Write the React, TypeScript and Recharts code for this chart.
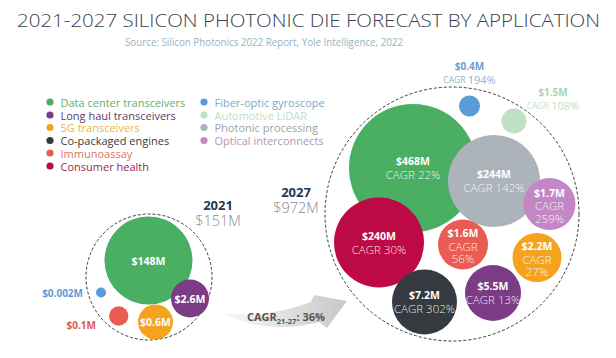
import React from 'react';
import { ScatterChart, Scatter, XAxis, YAxis } from 'recharts';

// ---------- DATA ----------
const categories = [
  'Data center transceivers',
  'Long haul transceivers',
  '5G transceivers',
  'Co-packaged engines',
  'Immunoassay',
  'Consumer health',
  'Fiber-optic gyroscope',
  'Automotive LiDAR',
  'Photonic processing',
  'Optical interconnects',
];
const values2021: (number | null)[] = [148, 2.6, 0.6, null, 0.1, null, 0.002, null, null, null];
const values2027: number[] = [468, 5.5, 2.2, 7.2, 1.6, 240, 0.4, 1.5, 244, 1.7];
const cagr2027: number[] = [22, 13, 27, 302, 56, 30, 194, 108, 142, 259];
const years = ['2021', '2027'];
const totals = [151, 972];
const overallCagr = 36;
const titleText = '2021-2027 SILICON PHOTONIC DIE FORECAST BY APPLICATION';
const sourceText = 'Source: Silicon Photonics 2022 Report, Yole Intelligence, 2022';

// ---------- STYLE ----------
const FONT = "'Open Sans', 'Noto Sans', sans-serif";
const bubbleColors = ['#4aae63', '#7c3b85', '#f5a31f', '#343a40', '#ea5b51', '#bd0a45', '#5b9bd8', '#bfe0c5', '#adb3ba', '#c487c6'];
const legendTextColors = ['#5fae71', '#5b3c6b', '#e9b54c', '#3a3a3a', '#e07468', '#9c1f47', '#7ea9cc', '#c3dccb', '#9da3aa', '#b994bb'];
const outerValueColors = ['', '', '', '', '#e0574f', '', '#6a9fcf', '#a8d5b5', '', ''];
const outerCagrColors = ['', '', '', '', '', '', '#8fb5d5', '#c5e0cc', '', ''];

// ---------- LAYOUT (pixel space of the chart) ----------
type Place = { x: number; y: number; r: number; mode: string } | null;
const layout2021: Place[] = [
  { x: 148.5, y: 260.5, r: 44, mode: 'in' },
  { x: 190, y: 298.5, r: 19, mode: 'in' },
  { x: 155.5, y: 322, r: 17.5, mode: 'in' },
  null,
  { x: 118.7, y: 316, r: 9.7, mode: 'left' },
  null,
  { x: 101, y: 292.5, r: 5, mode: 'left' },
  null, null, null,
];
const layout2027: Place[] = [
  { x: 413, y: 168, r: 64, mode: 'in2' },
  { x: 493, y: 293, r: 28, mode: 'in2' },
  { x: 537, y: 257.5, r: 24.5, mode: 'in3' },
  { x: 424.5, y: 302, r: 32.5, mode: 'in2' },
  { x: 463, y: 244.5, r: 25, mode: 'in3' },
  { x: 379, y: 242.5, r: 45, mode: 'in2' },
  { x: 469.5, y: 106, r: 10.5, mode: 'above' },
  { x: 514, y: 121, r: 12.5, mode: 'aboveRight' },
  { x: 494, y: 181, r: 46, mode: 'in2' },
  { x: 549.5, y: 204, r: 26, mode: 'in3' },
];
const containerLayout = [
  { x: 149, y: 277, r: 63, lx: 218, ly: 205 },
  { x: 452, y: 214, r: 127, lx: 296, ly: 192 },
];

const fmt = (v: number) => `$${v}M`;

const build = (vals: (number | null)[], lay: Place[], withCagr: boolean) =>
  categories
    .map((c, i) => {
      const p = lay[i];
      const v = vals[i];
      if (!p || v == null) return null;
      return {
        name: c,
        value: v,
        cagr: withCagr ? cagr2027[i] : null,
        x: p.x,
        y: p.y,
        r: p.r,
        mode: p.mode,
        color: bubbleColors[i],
        outerColor: outerValueColors[i],
        outerCagrColor: outerCagrColors[i],
      };
    })
    .filter(Boolean)
    .sort((a: any, b: any) => b.r - a.r) as any[];

const data2021 = build(values2021, layout2021, false);
const data2027 = build(values2027, layout2027, true);
const containerData = years.map((y, i) => ({ year: y, total: totals[i], ...containerLayout[i] }));

const Bubble = (props: any) => {
  const { cx, cy, payload } = props;
  const { r, color, mode, value, cagr, outerColor, outerCagrColor } = payload;
  const white = '#ffffff';
  const soft = 'rgba(255,255,255,0.9)';
  let labels: React.ReactNode = null;
  if (mode === 'in') {
    labels = (
      <text x={cx} y={cy} textAnchor="middle" dominantBaseline="central" fontFamily={FONT} fontWeight={700} fontSize={10.5} fill={white}>
        {fmt(value)}
      </text>
    );
  } else if (mode === 'in2') {
    labels = (
      <g fontFamily={FONT} textAnchor="middle">
        <text x={cx} y={cy - 7} dominantBaseline="central" fontWeight={700} fontSize={10.5} fill={white}>{fmt(value)}</text>
        <text x={cx} y={cy + 6.5} dominantBaseline="central" fontWeight={300} fontSize={11.5} fill={soft}>{`CAGR ${cagr}%`}</text>
      </g>
    );
  } else if (mode === 'in3') {
    labels = (
      <g fontFamily={FONT} textAnchor="middle">
        <text x={cx} y={cy - 11.5} dominantBaseline="central" fontWeight={700} fontSize={10.5} fill={white}>{fmt(value)}</text>
        <text x={cx} y={cy + 1.5} dominantBaseline="central" fontWeight={300} fontSize={11.5} fill={soft}>CAGR</text>
        <text x={cx} y={cy + 14} dominantBaseline="central" fontWeight={300} fontSize={11.5} fill={soft}>{`${cagr}%`}</text>
      </g>
    );
  } else if (mode === 'above' || mode === 'aboveRight') {
    const lx = mode === 'above' ? cx : cx + 39;
    const ly = mode === 'above' ? cy - 40 : cy - 29;
    labels = (
      <g fontFamily={FONT} textAnchor="middle">
        <text x={lx} y={ly} dominantBaseline="central" fontWeight={700} fontSize={10} fill={outerColor}>{fmt(value)}</text>
        <text x={lx} y={ly + 13} dominantBaseline="central" fill={outerCagrColor}>
          <tspan fontSize={8.5}>CAGR </tspan>
          <tspan fontSize={11}>{`${cagr}%`}</tspan>
        </text>
      </g>
    );
  } else if (mode === 'left') {
    const lx = cx - r - 13;
    const ly = value < 0.01 ? cy : cy + 9;
    labels = (
      <text x={lx} y={ly} textAnchor="end" dominantBaseline="central" fontFamily={FONT} fontWeight={700} fontSize={10} fill={value < 0.01 ? '#5b9bd5' : '#e0574f'}>
        {fmt(value)}
      </text>
    );
  }
  return (
    <g>
      <circle cx={cx} cy={cy} r={r} fill={color} />
      {labels}
    </g>
  );
};

const Container = (props: any) => {
  const { cx, cy, payload } = props;
  const { r, lx, ly, year, total } = payload;
  return (
    <g>
      <circle cx={cx} cy={cy} r={r} fill="none" stroke="#3a3a3a" strokeWidth={1} strokeDasharray="3 2" />
      <text x={lx} y={ly} textAnchor="middle" dominantBaseline="central" fontFamily={FONT} fontWeight={700} fontSize={13} fill="#22385b">{year}</text>
      <text x={lx} y={ly + 15} textAnchor="middle" dominantBaseline="central" fontFamily={FONT} fontWeight={300} fontSize={14.5} fill="#8a8a8a">{`$${total}M`}</text>
    </g>
  );
};

const legendRows = [102, 115, 127.5, 140.5, 153, 166];

const Decor = () => (
  <g>
    <text x={17} y={26.5} fontFamily={FONT} fontWeight={300} fontSize={18} fill="#3b4050" textLength={583} lengthAdjust="spacingAndGlyphs">{titleText}</text>
    <text x={125} y={45.5} fontFamily={FONT} fontSize={10.5} fill="#93b3c4" textLength={278} lengthAdjust="spacingAndGlyphs">{sourceText}</text>
    {categories.map((c, i) => {
      const col = i < 6 ? 0 : 1;
      const row = i < 6 ? i : i - 6;
      const dx = col === 0 ? 50 : 204;
      const y = legendRows[row];
      return (
        <g key={c}>
          <circle cx={dx} cy={y} r={3.6} fill={bubbleColors[i]} />
          <text x={dx + 10.5} y={y} dominantBaseline="central" fontFamily={FONT} fontSize={11} fill={legendTextColors[i]}>{c}</text>
        </g>
      );
    })}
    <defs>
      <linearGradient id="arrowGrad" x1="0" y1="0" x2="1" y2="0">
        <stop offset="0%" stopColor="#fbfbfb" />
        <stop offset="100%" stopColor="#c8c8c8" />
      </linearGradient>
    </defs>
    <path d="M 218 312 Q 262 320 311 302 L 314 295 L 347 301 L 327 328 L 319 322 Q 268 336 218 312 Z" fill="url(#arrowGrad)" />
    <text x={247} y={321} fontFamily={FONT} fontWeight={700} fontSize={11} fill="#555">
      CAGR<tspan fontSize={7.5} dy={2.5}>21-27</tspan><tspan dy={-2.5}>: {overallCagr}%</tspan>
    </text>
  </g>
);

export default function App() {
  return (
    <div style={{ position: 'absolute', left: 0, top: 0, width: 616, height: 358, background: '#fff' }}>
      <ScatterChart width={616} height={358} margin={{ top: 0, right: 0, bottom: 0, left: 0 }}>
        <XAxis type="number" dataKey="x" domain={[0, 616]} hide />
        <YAxis type="number" dataKey="y" domain={[0, 358]} reversed hide />
        <Decor />
        <Scatter data={containerData} shape={(p: any) => <Container {...p} />} isAnimationActive={false} />
        <Scatter data={data2021} shape={(p: any) => <Bubble {...p} />} isAnimationActive={false} />
        <Scatter data={data2027} shape={(p: any) => <Bubble {...p} />} isAnimationActive={false} />
      </ScatterChart>
    </div>
  );
}
